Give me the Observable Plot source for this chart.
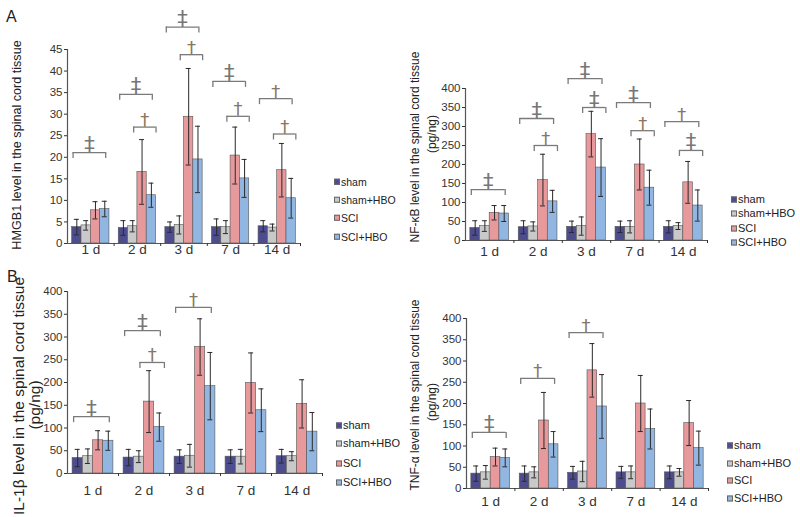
<!DOCTYPE html>
<html><head><meta charset="utf-8">
<script src="https://cdn.jsdelivr.net/npm/d3@7"></script>
<script src="https://cdn.jsdelivr.net/npm/@observablehq/plot@0.6"></script>
<style>
body{margin:0;background:#fff;}
#fig{position:relative;width:800px;height:517px;overflow:hidden;font-family:"Liberation Sans",Arial,sans-serif;color:#222;background:#fff;}
.panel{position:absolute;}
.ytitle{position:absolute;white-space:nowrap;transform:translate(-50%,-50%) rotate(-90deg);line-height:1;color:#222;}
.letter{position:absolute;font-size:16px;line-height:1;}
.lg{position:absolute;white-space:nowrap;display:flex;align-items:center;transform:translateY(-50%);line-height:1;color:#222;}
.lg .sw{width:4px;height:4px;border:1px solid #666;margin-right:1px;}
</style></head><body><div id="fig"></div>
<script>
// ---- data ----
const days = ["1 d", "2 d", "3 d", "7 d", "14 d"];
const series = ["sham", "sham+HBO", "SCI", "SCI+HBO"];
const colors = ["#4d4c8e", "#c9c9c9", "#e8999c", "#91b6e2"];

const yTicksHmgb1 = [0, 5, 10, 15, 20, 25, 30, 35, 40, 45];
const yTicksPg = [0, 50, 100, 150, 200, 250, 300, 350, 400];

// rows: sham, sham+HBO, SCI, SCI+HBO ; columns: days
const hmgb1Means = [[3.8, 3.6, 3.8, 3.8, 4.0], [4.2, 4.0, 4.3, 3.8, 3.7], [7.7, 16.6, 29.4, 20.4, 17.0], [8.0, 11.2, 19.5, 15.1, 10.5]];
const hmgb1Sds   = [[1.8, 1.7, 1.2, 1.9, 1.3], [1.1, 1.3, 2.1, 1.5, 0.8], [2.0, 7.5, 11.2, 6.6, 6.2], [1.8, 2.8, 7.7, 4.4, 4.6]];
const nfkbMeans  = [[33, 35, 36, 36, 36], [38, 37, 38, 36, 38], [73, 159, 280, 200, 153], [71, 103, 192, 139, 92]];
const nfkbSds    = [[19, 17, 15, 15, 16], [14, 12, 24, 16, 9], [19, 68, 60, 67, 55], [21, 29, 76, 46, 41]];
const il1bMeans  = [[34, 35, 37, 37, 38], [38, 37, 39, 37, 38], [73, 158, 278, 199, 153], [72, 102, 192, 139, 92]];
const il1bSds    = [[19, 18, 15, 15, 15], [16, 13, 25, 16, 10], [21, 68, 62, 66, 53], [21, 31, 74, 47, 42]];
const tnfMeans   = [[35, 35, 37, 38, 38], [38, 38, 40, 38, 38], [74, 160, 278, 200, 154], [72, 104, 193, 140, 95]];
const tnfSds     = [[18, 18, 15, 14, 15], [16, 13, 24, 15, 9], [21, 66, 63, 66, 53], [21, 30, 75, 47, 40]];

// significance brackets: [day, comparison, level, symbol]
const hmgb1Brackets = [["1 d", "all", 21.1, "‡"], ["2 d", "all", 34.6, "‡"], ["2 d", "pair", 27, "†"], ["3 d", "all", 50.2, "‡"], ["3 d", "pair", 43.8, "†"], ["7 d", "all", 37.6, "‡"], ["7 d", "pair", 29.5, "†"], ["14 d", "all", 33.6, "†"], ["14 d", "pair", 25.4, "†"]];
const nfkbBrackets  = [["1 d", "all", 134, "‡"], ["2 d", "all", 321, "‡"], ["2 d", "pair", 250, "†"], ["3 d", "all", 426, "‡"], ["3 d", "pair", 350, "‡"], ["7 d", "all", 363, "‡"], ["7 d", "pair", 289, "†"], ["14 d", "all", 313, "†"], ["14 d", "pair", 237, "‡"]];
const il1bBrackets  = [["1 d", "all", 125, "‡"], ["2 d", "all", 314, "‡"], ["2 d", "pair", 244, "†"], ["3 d", "all", 365, "†"]];
const tnfBrackets   = [["1 d", "all", 132, "‡"], ["2 d", "all", 259, "†"], ["3 d", "all", 367, "†"]];

const titles = {
  hmgb1: ["HMGB1 level in the spinal cord tissue"],
  nfkb: ["NF-κB level in the spinal cord tissue", "(pg/ng)"],
  il1b: ["IL-1β level in the spinal cord tissue", "(pg/ng)"],
  tnf: ["TNF-α level in the spinal cord tissue", "(pg/ng)"]
};

// ---- layout ----
const panels = [
  {key: "hmgb1", means: hmgb1Means, sds: hmgb1Sds, brackets: hmgb1Brackets, ticks: yTicksHmgb1, yMax: 45,
   left: 30, top: 0, width: 280, height: 272, ml: 37, mr: 10, mt: 49, mb: 29, tickPad: 1,
   titleFont: 12.6, titlePos: [[17, 145]], legX: 334, legY: [182, 200, 218, 237], legFont: 10.5},
  {key: "nfkb", means: nfkbMeans, sds: nfkbSds, brackets: nfkbBrackets, ticks: yTicksPg, yMax: 400,
   left: 430, top: 40, width: 287, height: 230, ml: 35, mr: 10, mt: 48, mb: 30, tickPad: 6,
   titleFont: 12, titlePos: [[415, 147], [432, 134]], legX: 731, legY: [199, 213, 228, 242], legFont: 11},
  {key: "il1b", means: il1bMeans, sds: il1bSds, brackets: il1bBrackets, ticks: yTicksPg, yMax: 400,
   left: 30, top: 265, width: 302, height: 240, ml: 37, mr: 10, mt: 26, mb: 32, tickPad: 12,
   titleFont: 15.5, titlePos: [[19, 396], [35, 405]], legX: 336, legY: [425, 443, 463, 482], legFont: 11},
  {key: "tnf", means: tnfMeans, sds: tnfSds, brackets: tnfBrackets, ticks: yTicksPg, yMax: 400,
   left: 430, top: 290, width: 288, height: 226, ml: 36, mr: 10, mt: 28, mb: 28, tickPad: 8,
   titleFont: 12, titlePos: [[415, 395], [432, 402]], legX: 727, legY: [445, 463, 480, 498], legFont: 11}
];

const fig = document.getElementById("fig");

function drawPanel(p) {
  const rows = [];
  series.forEach((s, j) => days.forEach((d, i) => rows.push({day: d, di: i, series: s, sj: j, mean: p.means[j][i], sd: p.sds[j][i]})));
  const br = p.brackets.map(([day, kind, level, mark]) => {
    const di = days.indexOf(day);
    const [a, b] = kind === "all" ? [0.12, 0.82] : [0.42, 0.9];
    return {x1: di + a, x2: di + b, xm: di + (a + b) / 2, level, mark};
  });
  const x0 = d => d.di + 0.1 + d.sj * 0.2;
  const xc = d => x0(d) + 0.1;
  const grey = "#7a7a7a";
  const chart = Plot.plot({
    width: p.width, height: p.height,
    marginLeft: p.ml, marginRight: p.mr, marginTop: p.mt, marginBottom: p.mb,
    x: {domain: [0, days.length]},
    y: {domain: [0, p.yMax]},
    color: {domain: series, range: colors},
    style: {fontFamily: "Liberation Sans, Arial, sans-serif", fontSize: "11.5px", color: "#333", background: "transparent", overflow: "visible"},
    marks: [
      Plot.rectY(rows, {x1: x0, x2: d => x0(d) + 0.2, y: "mean", fill: "series", stroke: "#555", strokeWidth: 0.6}),
      Plot.ruleX(rows, {x: xc, y1: d => d.mean - d.sd, y2: d => d.mean + d.sd, stroke: "#2a2a2a", strokeWidth: 1}),
      Plot.ruleY(rows, {y: d => d.mean + d.sd, x1: xc, x2: xc, insetLeft: -2.5, insetRight: -2.5, stroke: "#2a2a2a", strokeWidth: 1}),
      Plot.ruleY(rows, {y: d => d.mean - d.sd, x1: xc, x2: xc, insetLeft: -2.5, insetRight: -2.5, stroke: "#2a2a2a", strokeWidth: 1}),
      Plot.ruleY([0], {stroke: "#555", strokeWidth: 1.2}),
      Plot.ruleX([0], {stroke: "#555", strokeWidth: 1.2}),
      Plot.axisY({ticks: p.ticks, tickSize: 3, tickPadding: 2, fontSize: 11.5, label: null}),
      Plot.axisX({ticks: [1, 2, 3, 4, 5], tickSize: 3, tickFormat: () => "", label: null}),
      Plot.axisX({ticks: days.map((d, i) => i + 0.5), tickFormat: t => days[Math.floor(t)], tickSize: 0, tickPadding: p.tickPad, fontSize: 13.5, label: null, style: "word-spacing:3px"}),
      Plot.ruleY(br, {y: "level", x1: "x1", x2: "x2", stroke: grey, strokeWidth: 1.3}),
      Plot.ruleX(br, {x: "x1", y1: "level", y2: "level", insetBottom: -6, stroke: grey, strokeWidth: 1.3}),
      Plot.ruleX(br, {x: "x2", y1: "level", y2: "level", insetBottom: -6, stroke: grey, strokeWidth: 1.3}),
      Plot.text(br.filter(d => d.mark === "‡"), {x: "xm", y: "level", text: "mark", lineAnchor: "bottom", dy: -1, fontSize: 21, fontFamily: "DejaVu Sans", fill: "#777"}),
      Plot.text(br.filter(d => d.mark === "†"), {x: "xm", y: "level", text: "mark", lineAnchor: "bottom", dy: -1, fontSize: 18, fontFamily: "DejaVu Sans", fill: "#8a7660"})
    ]
  });
  const wrap = document.createElement("div");
  wrap.className = "panel";
  wrap.style.left = p.left + "px";
  wrap.style.top = p.top + "px";
  wrap.appendChild(chart);
  fig.appendChild(wrap);

  titles[p.key].forEach((t, k) => {
    const el = document.createElement("div");
    el.className = "ytitle";
    el.textContent = t;
    el.style.fontSize = p.titleFont + "px";
    el.style.left = p.titlePos[k][0] + "px";
    el.style.top = p.titlePos[k][1] + "px";
    fig.appendChild(el);
  });

  series.forEach((s, j) => {
    const row = document.createElement("div");
    row.className = "lg";
    row.style.left = p.legX + "px";
    row.style.top = p.legY[j] + "px";
    row.style.fontSize = p.legFont + "px";
    const sw = document.createElement("span");
    sw.className = "sw";
    sw.style.background = colors[j];
    row.appendChild(sw);
    const tx = document.createElement("span");
    tx.textContent = s;
    row.appendChild(tx);
    fig.appendChild(row);
  });
}

panels.forEach(drawPanel);

[["A", 6, 9], ["B", 7, 269]].forEach(([t, x, y]) => {
  const el = document.createElement("div");
  el.className = "letter";
  el.textContent = t;
  el.style.left = x + "px";
  el.style.top = y + "px";
  fig.appendChild(el);
});
</script>
</body></html>
